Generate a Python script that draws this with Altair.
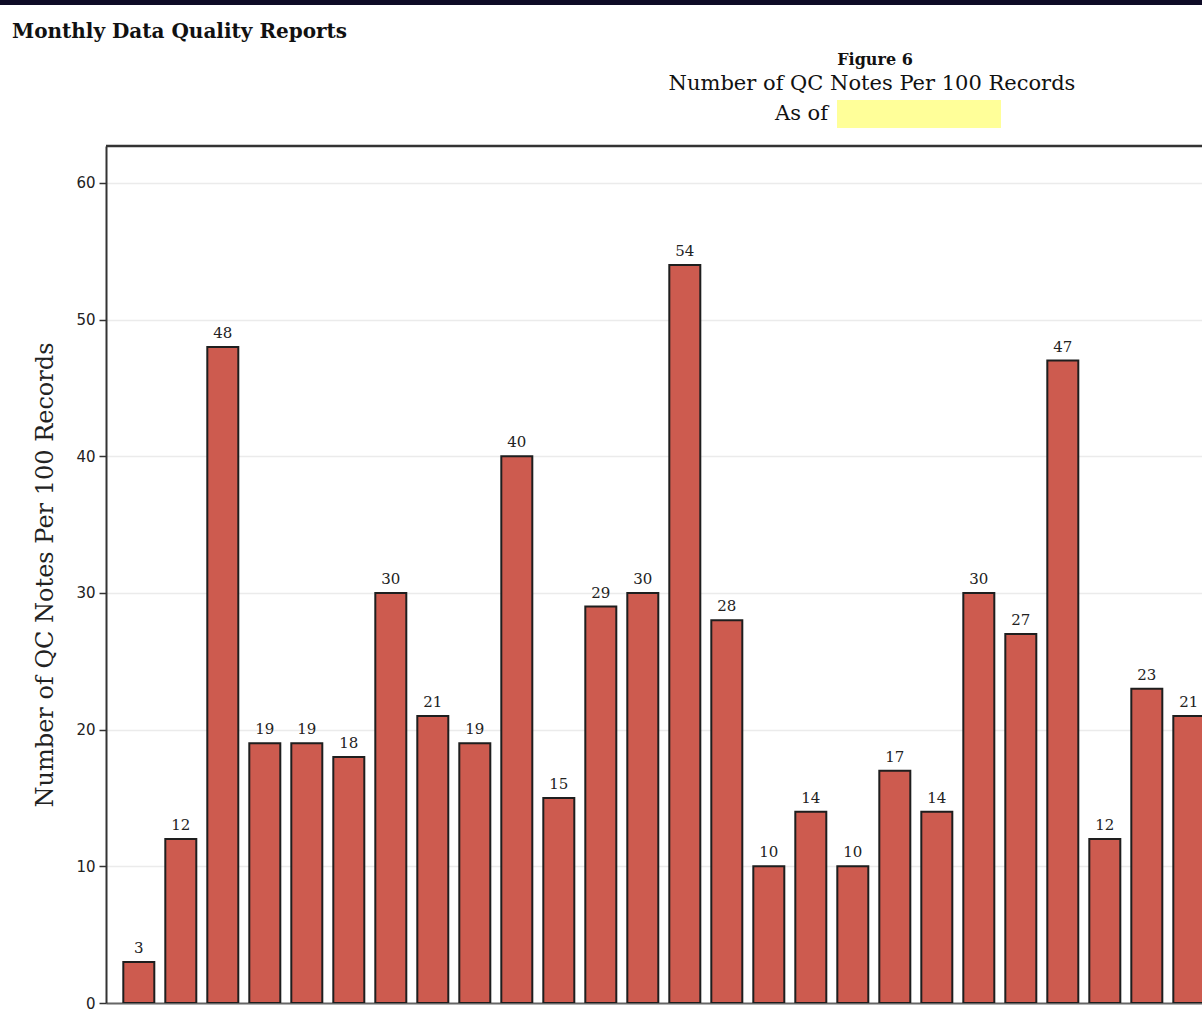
import altair as alt
import pandas as pd

# QC notes per 100 records, one bar per reporting period
positions = list(range(1, 27))
notes_per_100 = [3, 12, 48, 19, 19, 18, 30, 21, 19, 40, 15, 29, 30, 54, 28,
                 10, 14, 10, 17, 14, 30, 27, 47, 12, 23, 21]

y_ticks = [0, 10, 20, 30, 40, 50, 60]
page_title = ["Monthly Data Quality Reports"]
figure_label = ["Figure 6"]
figure_title = ["Number of QC Notes Per 100 Records"]
as_of_label = ["As of"]
y_title = "Number of QC Notes Per 100 Records"

W, H = 1096, 857
SERIF = "DejaVu Serif"
SANS = "DejaVu Sans"

df = pd.DataFrame({"pos": positions, "value": notes_per_100})

x_scale = alt.Scale(domain=[0.219, 26.314], nice=False, zero=False, padding=0)
y_scale = alt.Scale(domain=[0, 62.7], nice=False)

base = alt.Chart(df)

bars = base.mark_bar(
    size=31, color="#cd5b4f", stroke="#1e1e1e", strokeWidth=2, clip=True
).encode(
    x=alt.X("pos:Q", scale=x_scale,
            axis=alt.Axis(labels=False, ticks=False, grid=False, title=None,
                          domainColor="#666666", domainWidth=2)),
    y=alt.Y("value:Q", scale=y_scale,
            axis=alt.Axis(values=y_ticks, title=y_title,
                          labelFont=SANS, labelFontSize=15, labelColor="#222222",
                          labelPadding=4, tickSize=7, tickColor="#333333",
                          tickWidth=1.5, domainColor="#333333", domainWidth=2,
                          gridColor="#ebebeb", gridWidth=1.5,
                          titleFont=SERIF, titleFontSize=24,
                          titleFontWeight="normal", titleColor="#222222",
                          titleAngle=270, titleAlign="center",
                          titleBaseline="alphabetic", titleX=-54, titleY=428.5)),
)

labels = base.mark_text(
    font=SERIF, fontSize=15, color="#222222", baseline="alphabetic", dy=-9
).encode(
    x=alt.X("pos:Q", scale=x_scale),
    y=alt.Y("value:Q", scale=y_scale),
    text=alt.Text("value:Q"),
)

# page decorations: navy band, frame top edge, highlighted date box
band = alt.Chart(pd.DataFrame({"k": [0]})).mark_rect(color="#0e0b26").encode(
    x=alt.value(-106), x2=alt.value(W), y=alt.value(-146), y2=alt.value(-141)
)
frame_top = alt.Chart(pd.DataFrame({"k": [0]})).mark_rule(
    color="#333333", strokeWidth=2.5
).encode(x=alt.value(0), x2=alt.value(W), y=alt.value(0))
date_box = alt.Chart(pd.DataFrame({"k": [0]})).mark_rect(color="#ffff99").encode(
    x=alt.value(731), x2=alt.value(895), y=alt.value(-46), y2=alt.value(-18)
)


def text_layer(lines, x, y, size, weight="normal", align="left"):
    return alt.Chart(pd.DataFrame({"t": lines})).mark_text(
        font=SERIF, fontSize=size, fontWeight=weight, align=align,
        baseline="alphabetic", color="#111111"
    ).encode(text="t:N", x=alt.value(x), y=alt.value(y))


title_t = text_layer(page_title, -94, -108, 20, "bold")
fig_t = text_layer(figure_label, 769, -81, 16, "bold", "center")
sub_t = text_layer(figure_title, 766, -56, 21, "normal", "center")
asof_t = text_layer(as_of_label, 669, -26, 21)

chart = alt.layer(
    band, date_box, title_t, fig_t, sub_t, asof_t, bars, labels, frame_top
).properties(
    width=W, height=H,
    autosize=alt.AutoSizeParams(type="none"),
    padding={"left": 106, "top": 146, "right": 0, "bottom": 8},
    background="white",
).configure_view(stroke=None)

chart.save("out.html", embed_options={"renderer": "svg", "actions": False})
